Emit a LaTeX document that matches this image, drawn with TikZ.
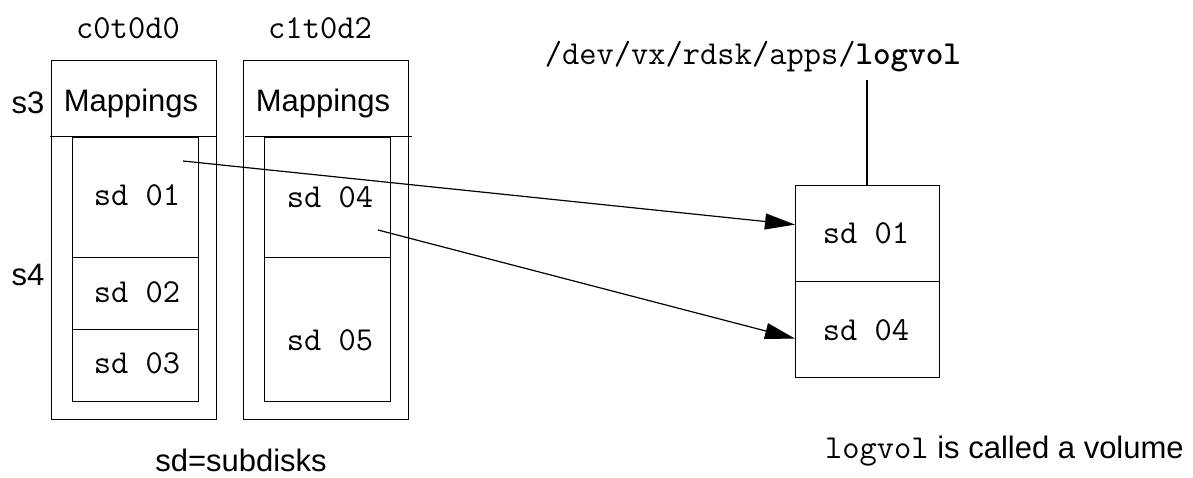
\documentclass[tikz,border=0pt]{standalone}
\usepackage{fontspec}
\setmainfont{Liberation Sans}
\setsansfont{Liberation Sans}
\usetikzlibrary{arrows.meta,calc}
\tikzset{
  box/.style={draw, line width=1.2pt, inner sep=0pt, anchor=north west},
  mono/.style={font=\fontsize{33.5}{38}\selectfont\ttfamily, inner sep=0pt},
  sans/.style={font=\fontsize{31}{36}\selectfont\sffamily, inner sep=0pt},
  ln/.style={line width=1.2pt},
  arr/.style={line width=1.2pt, -{Triangle[length=30pt,width=16pt]}}
}
\begin{document}
\begin{tikzpicture}[x=1pt,y=-1pt]
\useasboundingbox (0,0) rectangle (1193,478);
% disk 1
\node[box, minimum width=165pt, minimum height=359pt] (d1) at (51,60) {};
\node[box, minimum width=126pt, minimum height=120pt] (s01) at (72,137) {};
\node[box, minimum width=126pt, minimum height=72pt] (s02) at (72,257) {};
\node[box, minimum width=126pt, minimum height=72pt] (s03) at (72,329) {};
\coordinate (m1l) at (50,136.5);
\coordinate (m1r) at (217,136.5);
\draw[ln] (m1l) -- (m1r);
% disk 2
\node[box, minimum width=165pt, minimum height=359pt] (d2) at (243,60) {};
\node[box, minimum width=126pt, minimum height=120pt] (s04) at (264,137) {};
\node[box, minimum width=126pt, minimum height=144pt] (s05) at (264,257) {};
\coordinate (m2l) at (245,136.5);
\coordinate (m2r) at (412,136.5);
\draw[ln] (m2l) -- (m2r);
% labels
\node[mono] (l1) at (128,28) {c0t0d0};
\node[mono] (l2) at (320,28) {c1t0d2};
\node[sans] (s3) at (28,103) {s3};
\node[sans] (s4) at (28,275) {s4};
\node[sans] (map1) at (131,103) {Mappings};
\node[sans] (map2) at (323,103) {Mappings};
\node[mono] (t01) at (137,195) {sd 01};
\node[mono] (t02) at (137,292) {sd 02};
\node[mono] (t03) at (137,363) {sd 03};
\node[mono] (t04) at (330,197) {sd 04};
\node[mono] (t05) at (330,340) {sd 05};
% volume
\node[box, minimum width=144pt, minimum height=96pt] (v1) at (795,185) {};
\node[box, minimum width=144pt, minimum height=96pt] (v2) at (795,281) {};
\node[mono] (vt1) at (866,233) {sd 01};
\node[mono] (vt2) at (866,330) {sd 04};
\node[mono] (path) at (753,57) {/dev/vx/rdsk/apps/\textbf{logvol}};
\coordinate (ptop) at (867,80);
\draw[ln] (ptop) -- (v1.north -| ptop);
% arrows
\coordinate (a1) at (183,161);
\coordinate (a2) at (378,230);
\draw[arr] (a1) -- ($(v1.west)+(0,-9)$);
\draw[arr] (a2) -- ($(v2.west)+(0,9)$);
% footnotes
\node[sans] (sdn) at (241,460) {sd=subdisks};
\node[sans, anchor=base west] (vol) at (825,458) {{\fontsize{33.5}{38}\selectfont\ttfamily logvol} is called a volume};
\end{tikzpicture}
\end{document}
